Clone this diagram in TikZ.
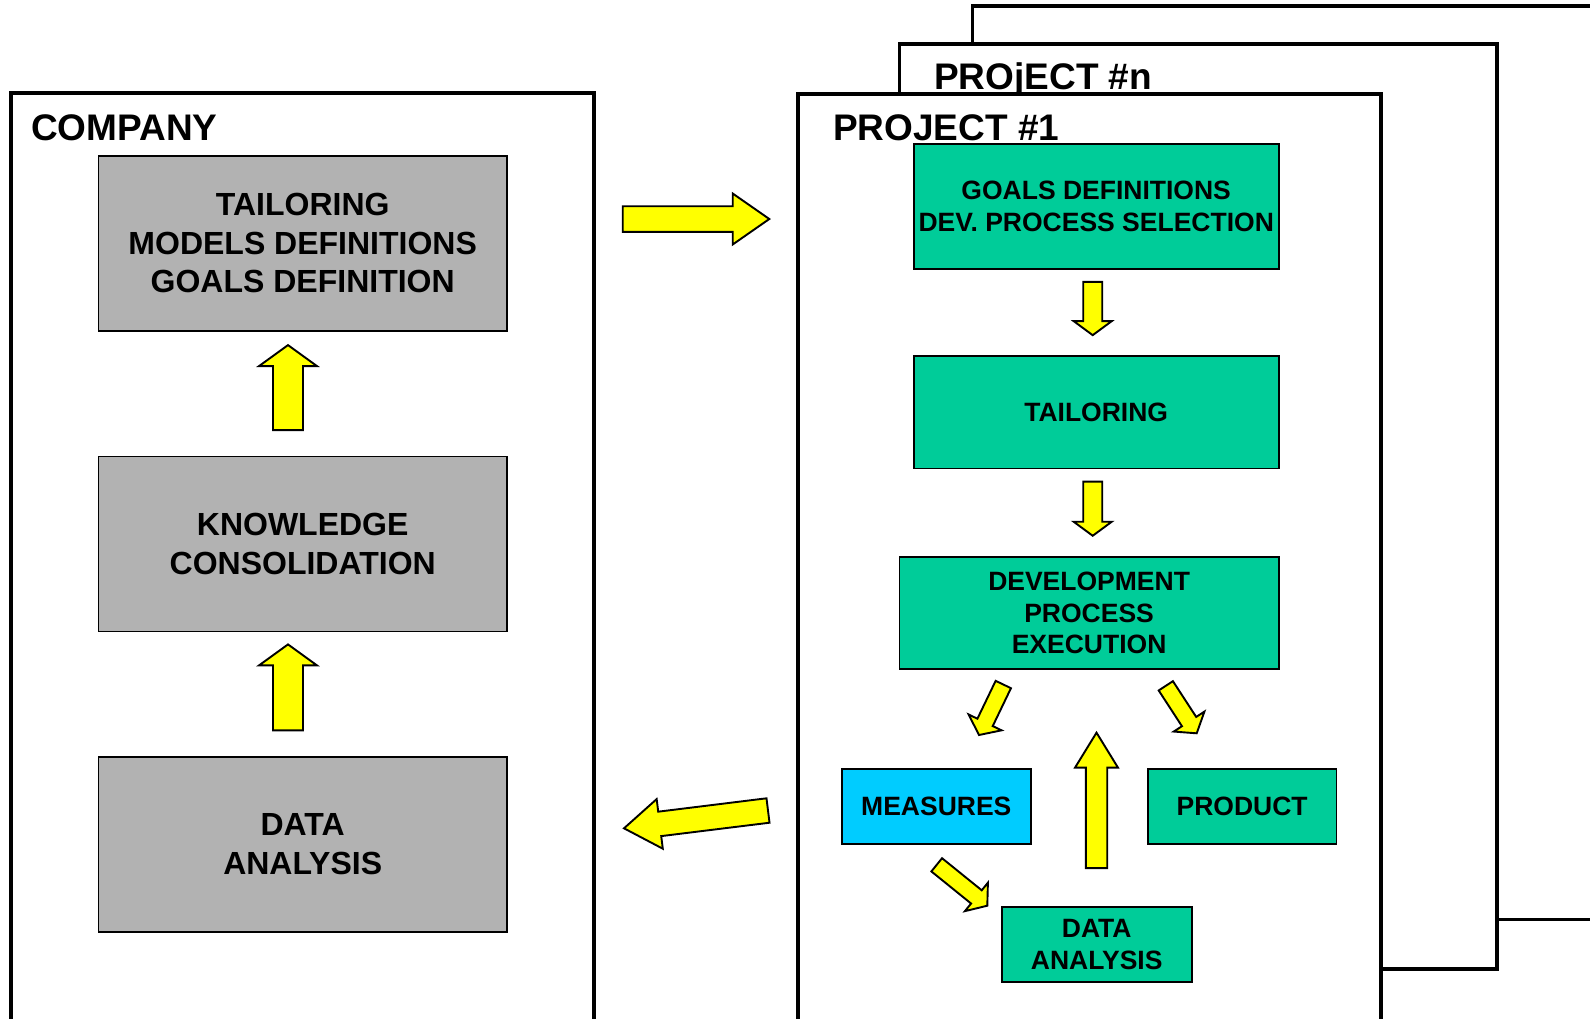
\documentclass[tikz,border=0pt]{standalone}
\usepackage{fontspec}
\setmainfont{Liberation Sans}
\usetikzlibrary{calc}

\definecolor{boxgray}{HTML}{B2B2B2}
\definecolor{boxgreen}{HTML}{00CC99}
\definecolor{boxcyan}{HTML}{00CCFF}
\definecolor{arrowyellow}{HTML}{FFFF00}

% block arrow from #1 (tail) to #2 (tip):
% #3 shaft half width, #4 head half width, #5 head length
\newcommand\blockarrow[5]{%
  \coordinate (hb) at ($(#2)!#5!(#1)$);
  \draw[blockarr]
    ($(#1)!#3!90:(#2)$) -- ($(hb)!#3!90:(#2)$) -- ($(hb)!#4!90:(#2)$)
    -- (#2)
    -- ($(hb)!#4!-90:(#2)$) -- ($(hb)!#3!-90:(#2)$) -- ($(#1)!#3!-90:(#2)$)
    -- cycle;
}

\tikzset{
  frame/.style={draw=black, line width=3.8pt, fill=white, line join=miter},
  framelabel/.style={anchor=base west, inner sep=0pt,
    font=\fontsize{37}{44}\selectfont\bfseries},
  graybox/.style={draw=black, line width=1.8pt, fill=boxgray,
    minimum width=408.6pt, minimum height=175pt, inner sep=0pt, align=center,
    font=\fontsize{32}{38.5}\selectfont\bfseries},
  greenbox/.style={draw=black, line width=1.8pt, fill=boxgreen,
    inner sep=0pt, align=center,
    font=\fontsize{26.5}{31.4}\selectfont\bfseries},
  cyanbox/.style={greenbox, fill=boxcyan},
  blockarr/.style={draw=black, line width=1.9pt, fill=arrowyellow, line join=miter},
}

\begin{document}
\begin{tikzpicture}[x=1pt, y=-1pt]
\useasboundingbox (0,0) rectangle (1590,1018);
\clip (0,0) rectangle (1590,1018);

% ---------------- company side ----------------
\draw[frame] (11.2,93.3) rectangle (594,1040);
\node[framelabel] (company) at (31,140) {COMPANY};

\node[graybox] (g1) at (302.7,243.3) {TAILORING\\MODELS DEFINITIONS\\GOALS DEFINITION};
\node[graybox] (g2) at (302.7,544)   {KNOWLEDGE\\CONSOLIDATION};
\node[graybox] (g3) at (302.7,844.2) {DATA\\ANALYSIS};

% ---------------- project stack ----------------
\draw[frame] (972.5,6) rectangle (1620,919.5);
\draw[frame] (899.5,43.6) rectangle (1496.7,969);
\node[framelabel] (projn) at (934,89.5) {PROjECT \#n};
\draw[frame] (798.3,94) rectangle (1381,1040);
\node[framelabel] (proj1) at (833,140) {PROJECT \#1};

\node[greenbox, minimum width=365pt, minimum height=124.5pt]
  (p1) at (1096.2,206.4) {GOALS DEFINITIONS\\DEV. PROCESS SELECTION};
\node[greenbox, minimum width=365pt, minimum height=112.5pt]
  (p2) at (1096.2,412.3) {TAILORING};
\node[greenbox, minimum width=379.2pt, minimum height=112.3pt]
  (p3) at (1089.1,612.9) {DEVELOPMENT\\PROCESS\\EXECUTION};
\node[cyanbox, minimum width=189.4pt, minimum height=75pt]
  (meas) at (936.3,806.5) {MEASURES};
\node[greenbox, minimum width=188.8pt, minimum height=75pt]
  (prod) at (1242.1,806.5) {PRODUCT};
\node[greenbox, minimum width=190pt, minimum height=75.6pt]
  (pdata) at (1096.7,944.5) {DATA\\ANALYSIS};

% ---------------- arrow end points ----------------
\coordinate (a1t) at ($(g2.north)+(-14.7,-25.5)$);
\coordinate (a1h) at ($(g1.south)+(-14.7,13.4)$);
\coordinate (a2t) at ($(g3.north)+(-14.7,-25.5)$);
\coordinate (a2h) at ($(g2.south)+(-14.7,12)$);
\coordinate (a3t) at (622.7,219);
\coordinate (a3h) at (769.3,219);
\coordinate (a4t) at (768,810.5);
\coordinate (a4h) at (624,828.3);
\coordinate (a5t) at ($(p1.south)+(-3.5,12.3)$);
\coordinate (a5h) at ($(p2.north)+(-3.5,-20)$);
\coordinate (a6t) at ($(p2.south)+(-3.5,12.1)$);
\coordinate (a6h) at ($(p3.north)+(3.6,-20.1)$);
\coordinate (a7t) at (1003.3,684.5);
\coordinate (a7h) at (979,735);
\coordinate (a8t) at (1165.8,685.8);
\coordinate (a8h) at (1196.7,733.3);
\coordinate (a9t) at (936.7,864.8);
\coordinate (a9h) at (987.3,905.7);
\coordinate (a10t) at ($(pdata.north)+(-0.2,-37.7)$);
\coordinate (a10h) at ($(p3.south)+(7.4,62.7)$);

% ---------------- block arrows ----------------
\blockarrow{a1t}{a1h}{15pt}{29pt}{21pt}
\blockarrow{a2t}{a2h}{15pt}{29pt}{21pt}
\blockarrow{a3t}{a3h}{12.8pt}{25.5pt}{36.6pt}
\blockarrow{a4t}{a4h}{12.3pt}{25pt}{36pt}
\blockarrow{a5t}{a5h}{9.5pt}{19pt}{14pt}
\blockarrow{a6t}{a6h}{9.5pt}{19pt}{14pt}
\blockarrow{a7t}{a7h}{8.5pt}{18.3pt}{14pt}
\blockarrow{a8t}{a8h}{8.5pt}{18.3pt}{14pt}
\blockarrow{a9t}{a9h}{8.5pt}{18.3pt}{14pt}
\blockarrow{a10t}{a10h}{10.7pt}{21.5pt}{35pt}
\end{tikzpicture}
\end{document}
